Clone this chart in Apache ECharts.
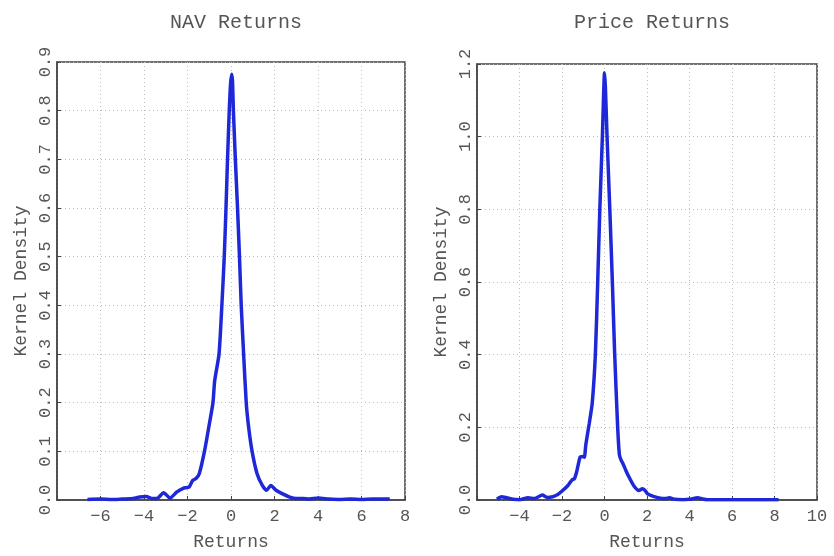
<!DOCTYPE html>
<html>
<head>
<meta charset="utf-8">
<script src="https://cdn.jsdelivr.net/npm/echarts@6/dist/echarts.min.js"></script>
<style>
  html, body { margin: 0; padding: 0; background: #fff; }
  #main { width: 834px; height: 556px; }
</style>
</head>
<body>
<div id="main"></div>
<script>
// NAV returns kernel density
var navX = [-6.6, -6, -5.5, -5, -4.5, -4.2, -3.9, -3.6, -3.4, -3.1, -2.8, -2.5, -2.2, -1.92, -1.77, -1.61, -1.46, -1.22, -1.02, -0.83,
    -0.75, -0.55, -0.42, -0.31, -0.23, -0.16, -0.08, -0.02, 0.03, 0.07, 0.11, 0.2, 0.3, 0.39, 0.47, 0.58, 0.7, 0.81, 0.97, 1.2,
    1.44, 1.64, 1.83, 2.07, 2.4, 2.7, 3.0, 3.3, 3.6, 4.0, 4.5, 5, 5.5, 6, 6.5, 7.3];
var navY = [0.001, 0.002, 0.001, 0.002, 0.003, 0.006, 0.007, 0.003, 0.003, 0.015, 0.004, 0.016, 0.024, 0.027, 0.04, 0.044, 0.054, 0.1, 0.15, 0.2,
    0.245, 0.3, 0.4, 0.5, 0.6, 0.7, 0.8, 0.855, 0.875, 0.86, 0.8, 0.7, 0.6, 0.5, 0.4, 0.3, 0.2, 0.15, 0.1, 0.054,
    0.03, 0.02, 0.03, 0.02, 0.012, 0.006, 0.003, 0.003, 0.002, 0.004, 0.002, 0.001, 0.002, 0.001, 0.002, 0.002];

// Price returns kernel density
var priceX = [-5.06, -4.85, -4.6, -4.3, -4.0, -3.6, -3.3, -2.92, -2.7, -2.44, -2.2, -1.97, -1.72, -1.6, -1.5, -1.42, -1.3, -1.15, -1.05, -0.95,
    -0.88, -0.72, -0.58, -0.43, -0.32, -0.22, -0.1, -0.04, 0.0, 0.04, 0.12, 0.25, 0.37, 0.48, 0.62, 0.7, 0.78, 0.87, 1.0, 1.12,
    1.37, 1.62, 1.78, 1.9, 2.03, 2.3, 2.63, 2.85, 3.06, 3.3, 3.7, 4.0, 4.38, 4.6, 4.86, 5.5, 6, 6.5, 7, 7.5, 8.19];
var priceY = [0.002, 0.009, 0.006, 0.002, 0.001, 0.006, 0.004, 0.0135, 0.007, 0.009, 0.015, 0.026, 0.04, 0.05, 0.057, 0.058, 0.08, 0.118, 0.12, 0.118,
    0.152, 0.21, 0.265, 0.4, 0.6, 0.8, 1.0, 1.12, 1.176, 1.14, 1.0, 0.8, 0.6, 0.4, 0.2, 0.125, 0.11, 0.1, 0.082, 0.067,
    0.04, 0.026, 0.031, 0.027, 0.017, 0.01, 0.005, 0.004, 0.006, 0.002, 0.001, 0.002, 0.006, 0.003, 0.0005, 0.0005, 0.001, 0.0005, 0.001, 0.0005, 0.001];

var titles = ['NAV Returns', 'Price Returns'];
var xRanges = [[-8, 8], [-6, 10]];
var yRanges = [[0, 0.9, 0.1], [0, 1.2, 0.2]];

function pairs(xs, ys) {
    var out = [];
    for (var i = 0; i < xs.length; i++) out.push([xs[i], ys[i]]);
    return out;
}

var font = 'Liberation Mono';
var textColor = '#555';

function xAxisFor(i) {
    var r = xRanges[i];
    return {
        gridIndex: i, type: 'value', min: r[0], max: r[1], interval: 2,
        name: 'Returns', nameLocation: 'middle', nameGap: 33,
        nameTextStyle: { fontFamily: font, fontSize: 18, color: textColor },
        axisLine: { onZero: false, lineStyle: { color: '#444', width: 1.5 } },
        axisTick: { inside: true, length: 4, lineStyle: { color: '#444' } },
        axisLabel: {
            fontFamily: font, fontSize: 17, color: textColor, margin: 8,
            formatter: function (v) {
                if (v === r[0]) return '';
                return String(v).replace('-', '\u2212');
            }
        },
        splitLine: { show: true, lineStyle: { color: '#bbb', type: [1, 3] } }
    };
}

function yAxisFor(i) {
    var r = yRanges[i];
    return {
        gridIndex: i, type: 'value', min: r[0], max: r[1], interval: r[2],
        name: 'Kernel Density', nameLocation: 'middle', nameGap: 27,
        nameTextStyle: { fontFamily: font, fontSize: 18, color: textColor },
        axisLine: { show: true, onZero: false, lineStyle: { color: '#444', width: 1.5 } },
        axisTick: { show: true, inside: true, length: 4, lineStyle: { color: '#444' } },
        axisLabel: {
            fontFamily: font, fontSize: 17, color: textColor, rotate: 90, margin: 3,
            formatter: function (v) { return v.toFixed(1); }
        },
        splitLine: { show: true, lineStyle: { color: '#bbb', type: [1, 3] } }
    };
}

var myChart = echarts.init(document.getElementById('main'));
var option = {
    backgroundColor: '#fff',
    animation: false,
    title: [
        { text: titles[0], left: 231, top: 8, textAlign: 'center',
          textStyle: { fontFamily: font, fontSize: 20, fontWeight: 'normal', color: textColor } },
        { text: titles[1], left: 647, top: 8, textAlign: 'center',
          textStyle: { fontFamily: font, fontSize: 20, fontWeight: 'normal', color: textColor } }
    ],
    grid: [
        { left: 57, right: 429, top: 62, bottom: 48, show: true, borderColor: '#444', borderWidth: 1.5 },
        { left: 477, right: 17, top: 64, bottom: 48, show: true, borderColor: '#444', borderWidth: 1.5 }
    ],
    xAxis: [xAxisFor(0), xAxisFor(1)],
    yAxis: [yAxisFor(0), yAxisFor(1)],
    series: [
        {
            name: titles[0], type: 'line', xAxisIndex: 0, yAxisIndex: 0,
            showSymbol: false, smooth: 0.2,
            lineStyle: { color: '#1e28d8', width: 3.5 },
            data: pairs(navX, navY)
        },
        {
            name: titles[1], type: 'line', xAxisIndex: 1, yAxisIndex: 1,
            showSymbol: false, smooth: 0.2,
            lineStyle: { color: '#1e28d8', width: 3.5 },
            data: pairs(priceX, priceY)
        }
    ]
};
myChart.setOption(option);
</script>
</body>
</html>
